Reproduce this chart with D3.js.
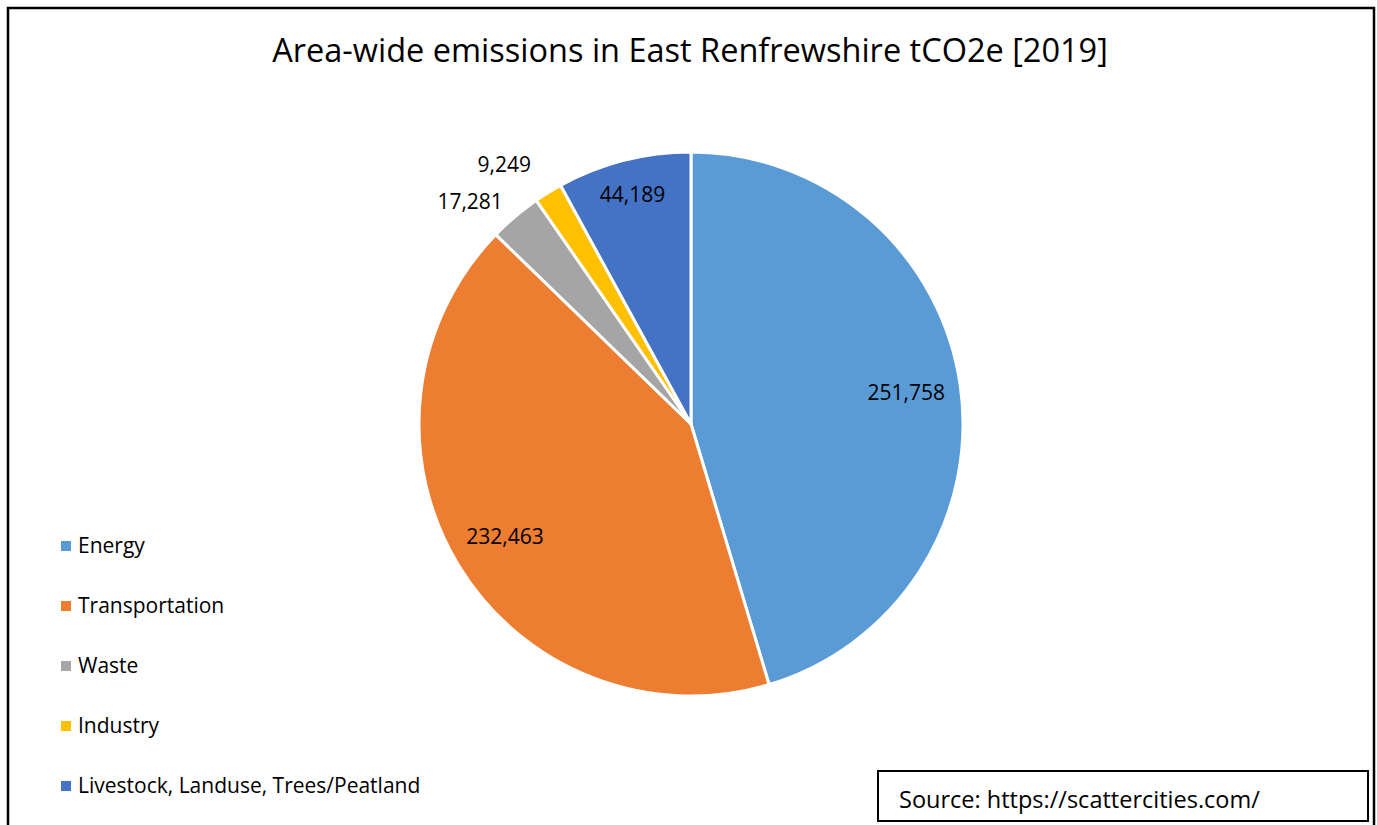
<!DOCTYPE html>
<meta charset="utf-8">
<style>
body { margin: 0; background: #fff; }
svg text { font-family: "Open Sans", "Noto Sans", sans-serif; fill: #000; }
</style>
<body>
<div id="chart"></div>
<script src="https://d3js.org/d3.v7.min.js"></script>
<script>

// data
var categories = ["Energy", "Transportation", "Waste", "Industry", "Livestock, Landuse, Trees/Peatland"];
var values     = [251758, 232463, 17281, 9249, 44189];
var colors     = ["#5b9bd5", "#ed7d31", "#a5a5a5", "#ffc000", "#4472c4"];
var title      = "Area-wide emissions in East Renfrewshire tCO2e [2019]";
var source     = "Source: https://scattercities.com/";

// label placement: radius fraction + whether it sits outside the pie
var labelRadius  = [0.8, 0.8, 1.07, 1.12, 0.87];
var labelOutside = [false, false, true, true, false];

var W = 1377, H = 825;
var cx = 691, cy = 424, R = 272;

var data = categories.map(function(c, i) {
    return {name: c, value: values[i], color: colors[i], lr: labelRadius[i], out: labelOutside[i]};
});

var svg = d3.select("#chart").append("svg")
    .attr("width", W)
    .attr("height", H);

// outer frame (bottom runs off the picture)
svg.append("rect")
    .attr("x", 8).attr("y", 8)
    .attr("width", 1366).attr("height", 830)
    .attr("fill", "#fff")
    .attr("stroke", "#000")
    .attr("stroke-width", 2.5);

svg.append("text")
    .attr("x", 690).attr("y", 62)
    .attr("text-anchor", "middle")
    .style("font-size", "32.5px")
    .text(title);

var pie = d3.pie().sort(null).value(function(d) { return d.value; });
var arc = d3.arc().innerRadius(0).outerRadius(R);
var arcs = pie(data);

var g = svg.append("g").attr("transform", "translate(" + cx + "," + cy + ")");

g.selectAll("path.slice")
    .data(arcs)
    .enter().append("path")
    .attr("class", "slice")
    .attr("d", arc)
    .attr("fill", function(d) { return d.data.color; })
    .attr("stroke", "#fff")
    .attr("stroke-width", 3)
    .attr("stroke-linejoin", "round");

var fmt = d3.format(",");

g.selectAll("text.lbl")
    .data(arcs)
    .enter().append("text")
    .attr("class", "lbl")
    .attr("transform", function(d) {
        var a = (d.startAngle + d.endAngle) / 2, r = R * d.data.lr;
        return "translate(" + (r * Math.sin(a)) + "," + (-r * Math.cos(a)) + ")";
    })
    .attr("text-anchor", function(d) { return d.data.out ? "end" : "middle"; })
    .attr("dy", "0.35em")
    .style("font-size", "21px")
    .text(function(d) { return fmt(d.data.value); });

// legend
var leg = svg.append("g").selectAll("g")
    .data(data)
    .enter().append("g")
    .attr("transform", function(d, i) { return "translate(61," + (546 + i * 60) + ")"; });

leg.append("rect")
    .attr("x", 0).attr("y", -5)
    .attr("width", 10).attr("height", 10)
    .attr("fill", function(d) { return d.color; });

leg.append("text")
    .attr("x", 17)
    .attr("dy", "0.35em")
    .style("font-size", "21px")
    .text(function(d) { return d.name; });

// source box
svg.append("rect")
    .attr("x", 878).attr("y", 771)
    .attr("width", 490).attr("height", 50)
    .attr("fill", "#fff")
    .attr("stroke", "#000")
    .attr("stroke-width", 2);

svg.append("text")
    .attr("x", 899).attr("y", 800)
    .attr("dy", "0.35em")
    .style("font-size", "23.5px")
    .text(source);

</script>
</body>
